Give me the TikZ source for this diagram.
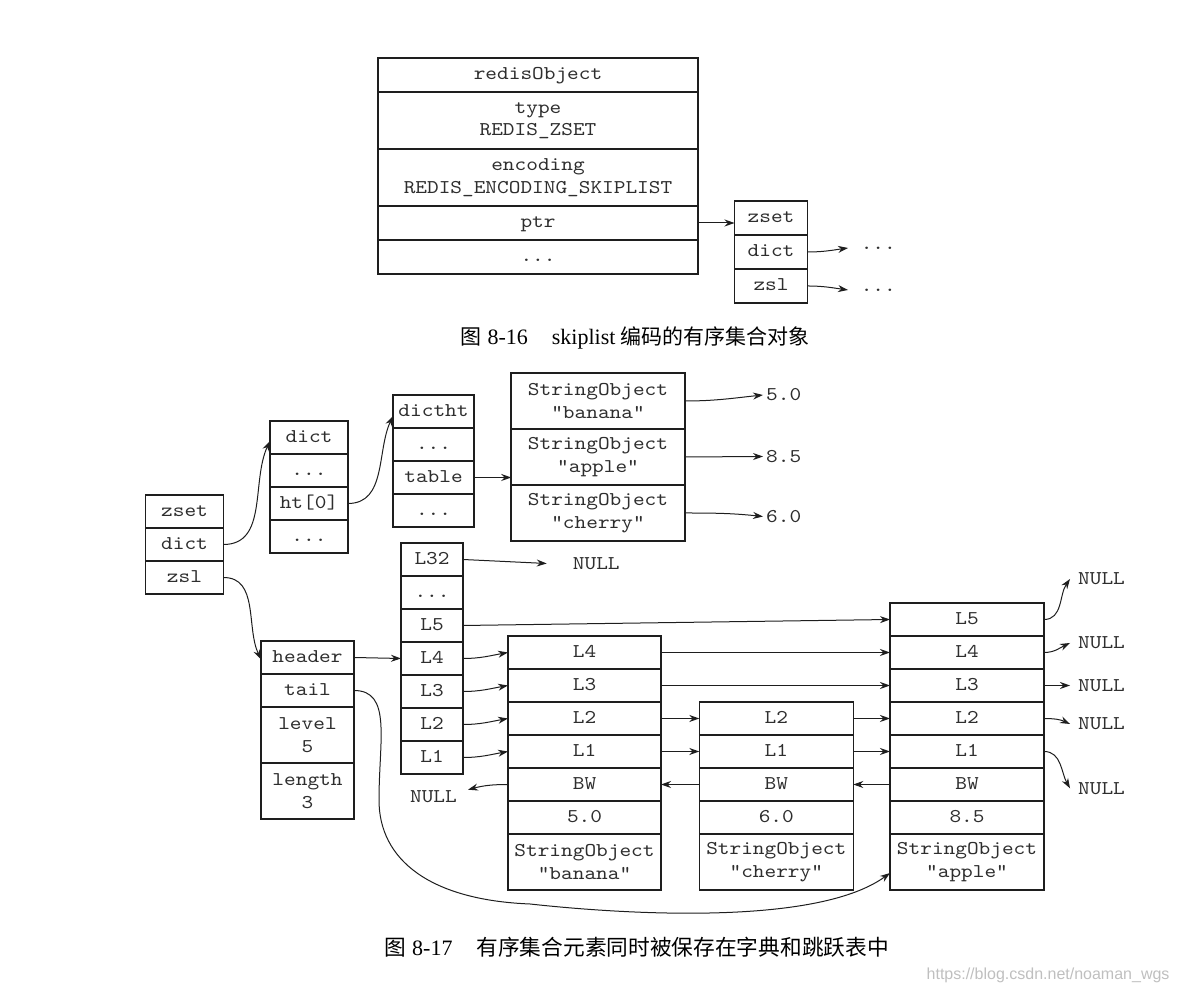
\documentclass[tikz,border=0pt]{standalone}
\usepackage{fontspec}
\setmonofont{lmmono10-regular.otf}[FakeStretch=1.14]
\newfontfamily\capfont{Liberation Serif}
\newfontfamily\cjk{Noto Sans CJK SC}
\newfontfamily\wmfont{Liberation Sans}
\usetikzlibrary{positioning, arrows.meta}
\definecolor{ink}{HTML}{1E1E1E}
\definecolor{txt}{HTML}{2E2E2E}
\newcommand{\cellfont}{\ttfamily\fontsize{19.5}{22.5}\selectfont}

\begin{document}
\begin{tikzpicture}[
    x=1pt, y=1pt,
    node distance=0pt,
    box/.style={draw=ink, line width=1.6pt, outer sep=0pt, inner sep=0pt, text=txt, font=\cellfont},
    cell/.style={box, minimum height=33pt, text height=14pt, text depth=4pt},
    tall/.style={box, minimum height=56pt, align=center},
    link/.style={draw=ink, line width=1pt, -{Stealth[length=10pt, width=7pt]}},
    nul/.style={inner ysep=0pt, inner xsep=8pt, text=txt, font=\cellfont}
]
\useasboundingbox (0,0) rectangle (1182,1000);

% Fig 8-16: redisObject
\begin{scope}[every node/.append style={minimum width=320pt}]
    \node[cell, minimum height=34pt] (ro-title) at (538,925) {redisObject};
    \node[tall, minimum height=57pt, below=of ro-title] (ro-type) {type\\REDIS\_ZSET};
    \node[tall, minimum height=57pt, below=of ro-type] (ro-enc) {encoding\\REDIS\_ENCODING\_SKIPLIST};
    \node[cell, minimum height=34pt, below=of ro-enc] (ro-ptr) {ptr};
    \node[cell, minimum height=34pt, below=of ro-ptr] (ro-more) {...};
\end{scope}
\begin{scope}[every node/.append style={minimum width=73pt}]
    \node[cell, minimum height=34pt] (z1-zset) at (771,782) {zset};
    \node[cell, minimum height=34pt, below=of z1-zset] (z1-dict) {dict};
    \node[cell, minimum height=34pt, below=of z1-dict] (z1-zsl) {zsl};
\end{scope}
\node[nul, anchor=west, inner xsep=12.6pt] (dots-dict) at (848,752) {...};
\node[nul, anchor=west, inner xsep=12.6pt] (dots-zsl) at (848,710) {...};

\draw[link] (ro-ptr.east) -- (ro-ptr.east -| z1-zset.west);
\draw[link] (z1-dict.east) to[out=0,in=188] (dots-dict.west);
\draw[link] (z1-zsl.east) to[out=0,in=172] (dots-zsl.west);

\node[anchor=west, text=black] (cap16) at (457,662)
    {{\cjk\fontsize{21}{24}\selectfont 图}\hspace{6pt}{\capfont\fontsize{22}{24}\selectfont 8-16}\hspace{24pt}{\capfont\fontsize{22}{24}\selectfont skiplist}\hspace{5pt}{\cjk\fontsize{21}{24}\selectfont 编码的有序集合对象}};

% Fig 8-17: zset -> dict
\begin{scope}[every node/.append style={minimum width=78pt}]
    \node[cell] (z2-zset) at (184.5,488.5) {zset};
    \node[cell, below=of z2-zset] (z2-dict) {dict};
    \node[cell, below=of z2-dict] (z2-zsl) {zsl};
    \node[cell] (d-dict) at (309,562.5) {dict};
    \node[cell, below=of d-dict] (d-dots1) {...};
    \node[cell, below=of d-dots1] (d-ht0) {ht[0]};
    \node[cell, below=of d-ht0] (d-dots2) {...};
\end{scope}
\begin{scope}[every node/.append style={minimum width=81pt}]
    \node[cell] (t-dictht) at (433.5,588.5) {dictht};
    \node[cell, below=of t-dictht] (t-dots1) {...};
    \node[cell, below=of t-dots1] (t-table) {table};
    \node[cell, below=of t-table] (t-dots2) {...};
\end{scope}
\begin{scope}[every node/.append style={minimum width=173.5pt}]
    \node[tall] (s-banana) at (598,599) {StringObject\\"banana"};
    \node[tall, below=of s-banana] (s-apple) {StringObject\\"apple"};
    \node[tall, below=of s-apple] (s-cherry) {StringObject\\"cherry"};
\end{scope}
\node[nul, anchor=west, inner xsep=3pt] (v-banana) at (763,605) {5.0};
\node[nul, anchor=west, inner xsep=3pt] (v-apple) at (763,543.5) {8.5};
\node[nul, anchor=west, inner xsep=3pt] (v-cherry) at (763,483.5) {6.0};

\draw[link] (z2-dict.east) to[out=0,in=245] ([yshift=-3.5pt]d-dict.west);
\draw[link] (d-ht0.east) to[out=0,in=245] ([yshift=-4.5pt]t-dictht.west);
\draw[link] (t-table.east) -- (t-table.east -| s-apple.west);
\draw[link] (s-banana.east) to[out=0,in=186] (v-banana.west);
\draw[link] (s-apple.east) -- (v-apple.west);
\draw[link] (s-cherry.east) to[out=0,in=174] (v-cherry.west);

% Fig 8-17: skiplist
\begin{scope}[every node/.append style={minimum width=93pt}]
    \node[cell] (zl-header) at (307.5,342.5) {header};
    \node[cell, below=of zl-header] (zl-tail) {tail};
    \node[tall, below=of zl-tail] (zl-level) {level\\5};
    \node[tall, below=of zl-level] (zl-length) {length\\3};
\end{scope}
\begin{scope}[every node/.append style={minimum width=62pt}]
    \node[cell] (lv-32) at (432,440.5) {L32};
    \node[cell, below=of lv-32] (lv-dots) {...};
    \node[cell, below=of lv-dots] (lv-5) {L5};
    \node[cell, below=of lv-5] (lv-4) {L4};
    \node[cell, below=of lv-4] (lv-3) {L3};
    \node[cell, below=of lv-3] (lv-2) {L2};
    \node[cell, below=of lv-2] (lv-1) {L1};
\end{scope}
\begin{scope}[every node/.append style={minimum width=153pt}]
    \node[cell] (b-l4) at (584.5,347.5) {L4};
    \node[cell, below=of b-l4] (b-l3) {L3};
    \node[cell, below=of b-l3] (b-l2) {L2};
    \node[cell, below=of b-l2] (b-l1) {L1};
    \node[cell, below=of b-l1] (b-bw) {BW};
    \node[cell, below=of b-bw] (b-score) {5.0};
    \node[tall, below=of b-score] (b-so) {StringObject\\"banana"};
\end{scope}
\begin{scope}[every node/.append style={minimum width=154pt}]
    \node[cell] (c-l2) at (776.3,281.5) {L2};
    \node[cell, below=of c-l2] (c-l1) {L1};
    \node[cell, below=of c-l1] (c-bw) {BW};
    \node[cell, below=of c-bw] (c-score) {6.0};
    \node[tall, below=of c-score] (c-so) {StringObject\\"cherry"};
    \node[cell] (a-l5) at (967,380.5) {L5};
    \node[cell, below=of a-l5] (a-l4) {L4};
    \node[cell, below=of a-l4] (a-l3) {L3};
    \node[cell, below=of a-l3] (a-l2) {L2};
    \node[cell, below=of a-l2] (a-l1) {L1};
    \node[cell, below=of a-l1] (a-bw) {BW};
    \node[cell, below=of a-bw] (a-score) {8.5};
    \node[tall, below=of a-score] (a-so) {StringObject\\"apple"};
\end{scope}

\node[nul, anchor=west, inner xsep=26pt] (null-32) at (546.7,436.5) {NULL};
\node[nul, anchor=east, inner xsep=11pt] (null-bw) at (468,203.3) {NULL};
\node[nul, anchor=west] (null-5) at (1070,421) {NULL};
\node[nul, anchor=west] (null-4) at (1070,357) {NULL};
\node[nul, anchor=west] (null-3) at (1070,314.5) {NULL};
\node[nul, anchor=west] (null-2) at (1070,276) {NULL};
\node[nul, anchor=west] (null-1) at (1070,211.7) {NULL};

\draw[link] (z2-zsl.east) to[out=0,in=115] ([yshift=-2pt]zl-header.west);
\draw[link] (zl-header.east) -- (lv-4.west);
\draw[link] (lv-32.east) -- (null-32.west);
\draw[link] (lv-5.east) -- (a-l5.west);
\foreach \k in {4,3,2,1}
    \draw[link] (lv-\k.east) to[out=0,in=190] (b-l\k.west);
\draw[link] (b-l4.east) -- (a-l4.west);
\draw[link] (b-l3.east) -- (a-l3.west);
\draw[link] (b-l2.east) -- (c-l2.west);
\draw[link] (b-l1.east) -- (c-l1.west);
\draw[link] (c-l2.east) -- (a-l2.west);
\draw[link] (c-l1.east) -- (a-l1.west);
\draw[link] (a-bw.west) -- (c-bw.east);
\draw[link] (c-bw.west) -- (b-bw.east);
\draw[link] (b-bw.west) to[out=180,in=15] ([yshift=7pt]null-bw.east);
\draw[link] (a-l5.east) to[out=0,in=235] (null-5.west);
\draw[link] (a-l4.east) to[out=0,in=205] (null-4.west);
\draw[link] (a-l3.east) -- (null-3.west);
\draw[link] (a-l2.east) to[out=0,in=155] (null-2.west);
\draw[link] (a-l1.east) to[out=0,in=120] (null-1.west);
% tail pointer
\draw[link] (zl-tail.east) .. controls (392,309.5) and (379,260) .. (379,200)
    .. controls (379,140) and (430,100) .. (530,96)
    .. controls (640,84) and (820,76) .. ([yshift=-11pt]a-so.west);

\node[anchor=west, text=black] (cap17) at (381,53)
    {{\cjk\fontsize{21.7}{24}\selectfont 图}\hspace{6pt}{\capfont\fontsize{22}{24}\selectfont 8-17}\hspace{24pt}{\cjk\fontsize{21.7}{24}\selectfont 有序集合元素同时被保存在字典和跳跃表中}};
\node[anchor=east, text=black!25, font=\wmfont\fontsize{16}{18}\selectfont] (wm) at (1173,25)
    {https://blog.csdn.net/noaman\_wgs};
\end{tikzpicture}
\end{document}
